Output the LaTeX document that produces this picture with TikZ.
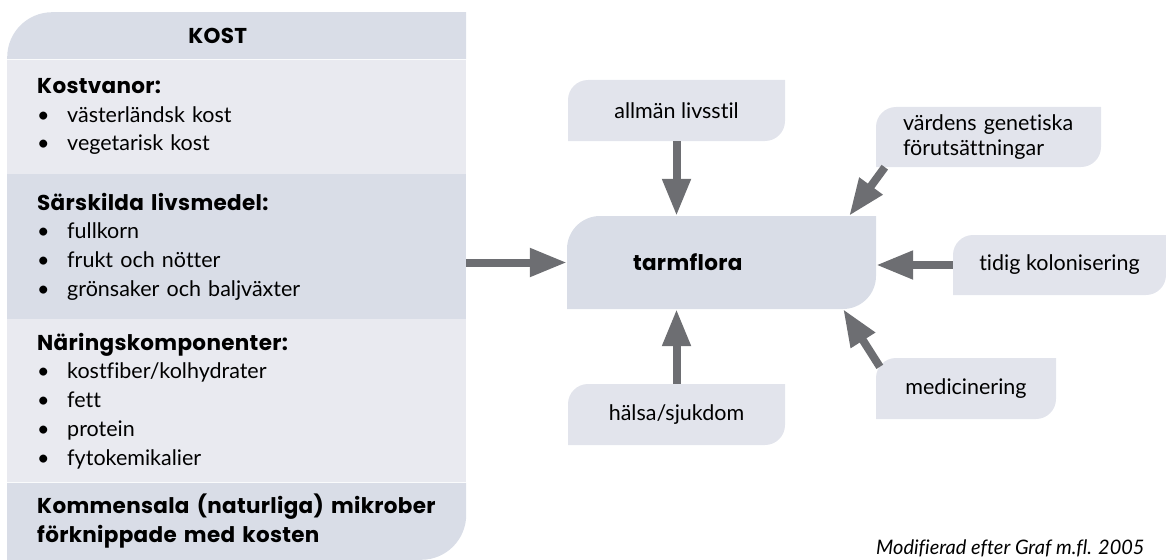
\documentclass[tikz,border=0pt]{standalone}
\usepackage{fontspec}
\setmainfont{Lato}[Ligatures=NoCommon]
\newfontfamily\heavy{Poppins}[LetterSpace=1.5]
\usetikzlibrary{arrows.meta}

\definecolor{bandDark}{RGB}{217,221,231}
\definecolor{bandLight}{RGB}{233,234,240}
\definecolor{boxFill}{RGB}{226,228,236}
\definecolor{arrowGray}{RGB}{109,110,114}

\newcommand\bull{\makebox[30pt][l]{\textbullet}}
\newcommand\hd[1]{\mbox{\heavy\bfseries #1}}

\tikzset{
  % fill with rounded top left (#1) and bottom right (#2) corners
  leaf/.style n args={3}{path picture={
    \fill[#3] (path picture bounding box.south west)
      -- ([yshift=-#1]path picture bounding box.north west)
      arc[start angle=180,end angle=90,radius=#1]
      -- (path picture bounding box.north east)
      -- ([yshift=#2]path picture bounding box.south east)
      arc[start angle=0,end angle=-90,radius=#2] -- cycle;}},
  band/.style={anchor=north west, inner xsep=30pt, inner ysep=0pt,
    text width=399pt, align=left},
  box/.style={leaf={20pt}{20pt}{boxFill}, inner sep=0pt, minimum height=61pt, align=center},
  flow/.style={draw=arrowGray, line width=8pt, -{Triangle[length=37pt,width=27pt]}}
}

\begin{document}
\begin{tikzpicture}[x=1pt,y=-1pt,
    every node/.append style={font=\fontsize{21.5pt}{28.7pt}\selectfont}]
    \useasboundingbox (0,0) rectangle (1166,559);

    % Diet panel
    \node[band, align=center, minimum height=47pt, leaf={45pt}{0.01pt}{bandDark}] (kost) at (7,12)
      {\hspace*{-38pt}\hd{KOST}};
    \node[band, fill=bandLight, minimum height=114pt] (kostvanor) at (kost.south west)
      {\hd{Kostvanor:}\\
       \bull västerländsk kost\\
       \bull vegetarisk kost};
    \node[band, fill=bandDark, minimum height=145pt] (sarskilda) at (kostvanor.south west)
      {\hd{Särskilda livsmedel:}\\
       \bull fullkorn\\
       \bull frukt och nötter\\
       \bull grönsaker och baljväxter};
    \node[band, fill=bandLight, minimum height=163pt] (naring) at (sarskilda.south west)
      {\hd{Näringskomponenter:}\\
       \bull kostfiber/kolhydrater\\
       \bull fett\\
       \bull protein\\
       \bull fytokemikalier};
    \node[band, minimum height=77pt, leaf={0.01pt}{45pt}{bandDark}] (kommensala) at (naring.south west)
      {\hd{Kommensala (naturliga) mikrober}\\
       \hd{förknippade med kosten}};

    % Gut flora and its factors
    \node[leaf={33pt}{33pt}{bandDark}, inner ysep=0pt, inner xsep=66pt, text width=177pt,
      minimum height=93pt, align=left] (tarmflora) at (721.5,262.5) {\hd{tarmflora}};
    \node[box, minimum width=217pt] (allman) at (676.5,110.5) {allmän livsstil};
    \node[box, minimum width=225pt, minimum height=60pt, inner xsep=27pt, text width=171pt,
      align=left, font=\fontsize{21.5pt}{25pt}\selectfont] (vardens) at (988.5,137)
      {värdens genetiska\\förutsättningar};
    \node[box, minimum width=213pt, minimum height=60pt] (tidig) at (1059.5,265) {tidig kolonisering};
    \node[box, minimum width=180pt] (medicinering) at (966,388.5) {medicinering};
    \node[box, minimum width=217pt] (halsa) at (676.5,414.5) {hälsa/sjukdom};

    % Arrows
    \draw[flow] (sarskilda.east |- tarmflora.west) -- (tarmflora.west);
    \draw[flow] (allman.south) -- (allman.south |- tarmflora.north);
    \draw[flow] (halsa.north) -- (halsa.north |- tarmflora.south);
    \draw[flow] (tidig.west) -- (tidig.west -| tarmflora.east);
    \draw[flow] ([xshift=9pt]vardens.south west) -- ([xshift=-27pt]tarmflora.north east);
    \draw[flow] ([xshift=4pt,yshift=-9pt]medicinering.north west) -- ([xshift=-33pt]tarmflora.south east);

    % Source
    \node[anchor=base east, font=\itshape\fontsize{20pt}{24pt}\selectfont] (source) at (1148,554)
      {Modifierad efter Graf m.fl. 2005};
\end{tikzpicture}
\end{document}
